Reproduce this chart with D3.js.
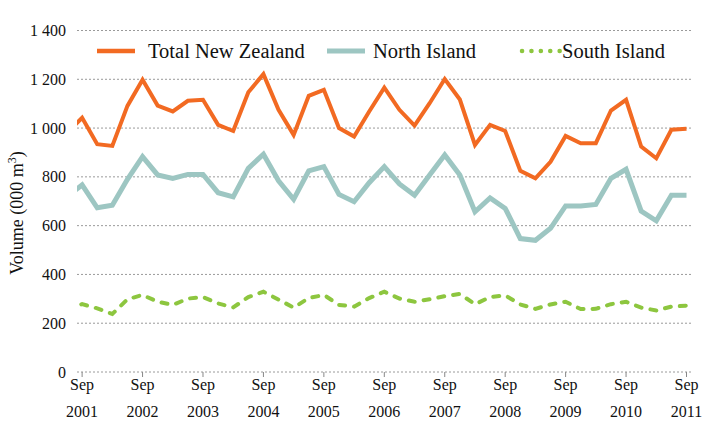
<!DOCTYPE html>
<html>
<head>
<meta charset="utf-8">
<script src="https://cdn.jsdelivr.net/npm/d3@7"></script>
<style>
  body { margin: 0; background: #fff; }
</style>
</head>
<body>
<svg id="chart" width="702" height="421"></svg>
<script>
// quarterly periods (first one sits just outside the plot and gets clipped)
const periods = [
  'Jun 2001', 'Sep 2001', 'Dec 2001', 'Mar 2002', 'Jun 2002',
  'Sep 2002', 'Dec 2002', 'Mar 2003', 'Jun 2003',
  'Sep 2003', 'Dec 2003', 'Mar 2004', 'Jun 2004',
  'Sep 2004', 'Dec 2004', 'Mar 2005', 'Jun 2005',
  'Sep 2005', 'Dec 2005', 'Mar 2006', 'Jun 2006',
  'Sep 2006', 'Dec 2006', 'Mar 2007', 'Jun 2007',
  'Sep 2007', 'Dec 2007', 'Mar 2008', 'Jun 2008',
  'Sep 2008', 'Dec 2008', 'Mar 2009', 'Jun 2009',
  'Sep 2009', 'Dec 2009', 'Mar 2010', 'Jun 2010',
  'Sep 2010', 'Dec 2010', 'Mar 2011', 'Jun 2011',
  'Sep 2011'
];

const totalNZ = [980, 1042, 934, 927, 1091, 1198, 1092, 1068, 1112, 1116, 1013, 988, 1147, 1221,
  1075, 972, 1132, 1157, 1000, 965, 1068, 1166, 1075, 1010, 1102, 1201, 1117, 931, 1013, 988,
  825, 794, 862, 968, 938, 938, 1072, 1116, 924, 876, 993, 997];
const northIsland = [720, 767, 673, 684, 790, 883, 808, 794, 810, 810, 735, 718, 835, 893,
  784, 708, 825, 842, 728, 698, 776, 842, 771, 725, 808, 890, 808, 657, 714, 671,
  547, 540, 589, 681, 681, 687, 794, 831, 660, 620, 725, 725];
const southIsland = [258, 278, 261, 238, 298, 316, 288, 275, 301, 307, 281, 265, 307, 329,
  297, 264, 303, 316, 275, 268, 303, 329, 301, 288, 298, 311, 320, 278, 307, 314,
  277, 259, 277, 288, 258, 259, 278, 288, 264, 252, 268, 272];

const tickPeriods = ['Sep 2001', 'Sep 2002', 'Sep 2003', 'Sep 2004', 'Sep 2005', 'Sep 2006',
  'Sep 2007', 'Sep 2008', 'Sep 2009', 'Sep 2010', 'Sep 2011'];
const yTicks = [0, 200, 400, 600, 800, 1000, 1200, 1400];

const seriesNames = ['Total New Zealand', 'North Island', 'South Island'];
const seriesColors = ['#F26A22', '#9DC6C2', '#8DC63F'];

const svg = d3.select('#chart');
const serif = "'Liberation Serif', 'DejaVu Serif', serif";

const plotLeft = 77, plotRight = 691, plotTop = 30.5, plotBottom = 372;

const x = d3.scalePoint()
  .domain(periods)
  .range([67, 686.5]);

const y = d3.scaleLinear()
  .domain([0, 1400])
  .range([plotBottom, plotTop]);

// dotted gridlines
svg.append('g')
  .selectAll('line')
  .data(yTicks)
  .join('line')
  .attr('x1', plotLeft)
  .attr('x2', plotRight)
  .attr('y1', d => y(d))
  .attr('y2', d => y(d))
  .attr('stroke', '#9a9a9a')
  .attr('stroke-width', 1)
  .attr('stroke-dasharray', '2,2');

// y tick labels
svg.append('g')
  .selectAll('text')
  .data(yTicks)
  .join('text')
  .attr('x', 66)
  .attr('y', d => y(d))
  .attr('dy', '0.35em')
  .attr('text-anchor', 'end')
  .attr('font-family', serif)
  .attr('font-size', 16)
  .attr('fill', '#111')
  .text(d => d3.format(',')(d).replace(',', ' '));

// x ticks + two-line labels
const xt = svg.append('g')
  .selectAll('g')
  .data(tickPeriods)
  .join('g')
  .attr('transform', d => `translate(${x(d)},0)`);
xt.append('line')
  .attr('y1', plotBottom)
  .attr('y2', plotBottom + 5)
  .attr('stroke', '#888')
  .attr('stroke-width', 1);
xt.append('text')
  .attr('y', 390)
  .attr('text-anchor', 'middle')
  .attr('font-family', serif)
  .attr('font-size', 16)
  .attr('fill', '#111')
  .text(d => d.split(' ')[0]);
xt.append('text')
  .attr('y', 417)
  .attr('text-anchor', 'middle')
  .attr('font-family', serif)
  .attr('font-size', 16)
  .attr('fill', '#111')
  .text(d => d.split(' ')[1]);

// y axis title
const yt = svg.append('text')
  .attr('transform', 'translate(23,213) rotate(-90)')
  .attr('text-anchor', 'middle')
  .attr('font-family', serif)
  .attr('font-size', 18)
  .attr('fill', '#111');
yt.append('tspan').text('Volume (000 m');
yt.append('tspan').attr('dy', -7).attr('font-size', 12).text('3');
yt.append('tspan').attr('dy', 7).text(')');

// clip so the lead-in quarter is cut at the plot edge
svg.append('clipPath').attr('id', 'plotclip')
  .append('rect')
  .attr('x', plotLeft).attr('y', 0)
  .attr('width', 702 - plotLeft).attr('height', 421);

const line = d3.line()
  .x((d, i) => x(periods[i]))
  .y(d => y(d));

const lines = svg.append('g').attr('clip-path', 'url(#plotclip)');

lines.append('path')
  .datum(northIsland)
  .attr('d', line)
  .attr('fill', 'none')
  .attr('stroke', seriesColors[1])
  .attr('stroke-width', 5);

lines.append('path')
  .datum(southIsland)
  .attr('d', line)
  .attr('fill', 'none')
  .attr('stroke', seriesColors[2])
  .attr('stroke-width', 4)
  .attr('stroke-linecap', 'round')
  .attr('stroke-dasharray', '6,9');

lines.append('path')
  .datum(totalNZ)
  .attr('d', line)
  .attr('fill', 'none')
  .attr('stroke', seriesColors[0])
  .attr('stroke-width', 4);

// legend
const legendX = [97, 327, 522];
const legendTextX = [148, 373, 562];
const legY = 51;
const leg = svg.append('g');
seriesNames.forEach(function(name, i){
  const l = leg.append('line')
    .attr('x1', legendX[i])
    .attr('x2', legendX[i] + 38)
    .attr('y1', legY)
    .attr('y2', legY)
    .attr('stroke', seriesColors[i]);
  if(i == 2){
    l.attr('stroke-width', 4.5)
      .attr('stroke-linecap', 'round')
      .attr('stroke-dasharray', '0.1,9.3');
  }else{
    l.attr('stroke-width', i == 1 ? 5 : 4.5);
  }
  leg.append('text')
    .attr('x', legendTextX[i])
    .attr('y', legY)
    .attr('dy', '0.35em')
    .attr('font-family', serif)
    .attr('font-size', 20.5)
    .attr('fill', '#111')
    .text(name);
});
</script>
</body>
</html>
